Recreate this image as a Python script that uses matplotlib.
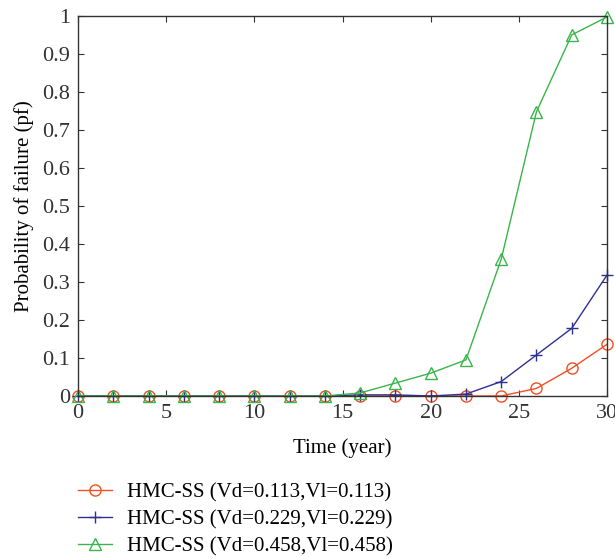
import matplotlib.pyplot as plt

plt.rcParams['font.family'] = ['Liberation Serif', 'DejaVu Serif']

time = [0, 2, 4, 6, 8, 10, 12, 14, 16, 18, 20, 22, 24, 26, 28, 30]
pf_low = [0, 0, 0, 0, 0, 0, 0, 0, 0, 0, 0, 0, 0, 0.02, 0.073, 0.136]
pf_mid = [0, 0, 0, 0, 0, 0, 0, 0, 0.003, 0.003, 0, 0.005, 0.038, 0.108, 0.178, 0.318]
pf_high = [0, 0, 0, 0, 0, 0, 0, 0, 0.008, 0.034, 0.06, 0.095, 0.36, 0.748, 0.95, 0.997]
labels = ['HMC-SS (Vd=0.113,Vl=0.113)',
          'HMC-SS (Vd=0.229,Vl=0.229)',
          'HMC-SS (Vd=0.458,Vl=0.458)']

fig = plt.figure(figsize=(6.15, 5.59), dpi=100)
ax = fig.add_axes([0.127, 0.2916, 0.86, 0.68])

ax.plot(time, pf_low, color='#f04e23', marker='o', mfc='none', ms=8, lw=1, label=labels[0], clip_on=False)
ax.plot(time, pf_mid, color='#2e3192', marker='+', ms=9, lw=1, label=labels[1], clip_on=False)
ax.plot(time, pf_high, color='#39b54a', marker='^', mfc='none', ms=9, lw=1, label=labels[2], clip_on=False)

ax.set_xlim(0, 30)
ax.set_ylim(0, 1)
ax.set_xticks(range(0, 31, 5))
ax.set_yticks([i / 10 for i in range(11)])
ax.set_yticklabels(['0', '0.1', '0.2', '0.3', '0.4', '0.5', '0.6', '0.7', '0.8', '0.9', '1'])
ax.tick_params(direction='in', top=True, right=True, labelsize=16, colors='#333333', length=4, pad=6)
for s in ax.spines.values():
    s.set_color('#333333')
    s.set_linewidth(1)

ax.set_xlabel('Time (year)', fontsize=15, labelpad=11)
ax.set_ylabel('Probability of failure (pf)', fontsize=15, labelpad=6)

ax.legend(loc='upper left', bbox_to_anchor=(0, -0.228), frameon=False, fontsize=15,
          handlelength=1.65, handletextpad=0.7, labelspacing=0.36, borderpad=0, borderaxespad=0)

fig.savefig('out.png', dpi=100)
